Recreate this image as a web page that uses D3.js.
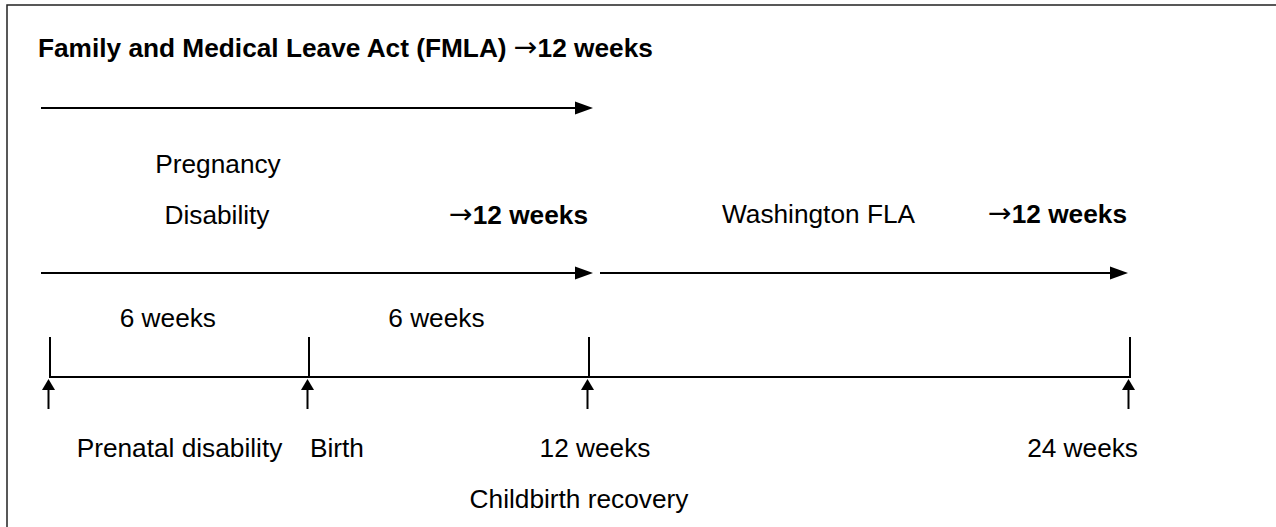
<!DOCTYPE html>
<html>
<head>
<meta charset="utf-8">
<script src="https://cdn.jsdelivr.net/npm/d3@7"></script>
<style>
  body { margin: 0; background: #fff; }
  text { font-family: Arial, "Liberation Sans", sans-serif; fill: #000; }
</style>
</head>
<body>
<div id="chart"></div>
<script>
// timeline marks, in weeks
var weeks = [0, 6, 12, 24];
var weekLabels = ["Prenatal disability", "Birth", "12 weeks", "24 weeks"];
var periodLabels = ["6 weeks", "6 weeks"];

// leave laws: name, start and end week
var lawNames = ["Family and Medical Leave Act (FMLA)", "Pregnancy Disability", "Washington FLA"];
var lawFrom = [0, 0, 12];
var lawTo = [12, 12, 24];
var recoveryLabel = "Childbirth recovery";

var width = 1276, height = 527;
var fontSize = 25, stretch = 1.05;

var svg = d3.select("#chart").append("svg")
    .attr("width", width)
    .attr("height", height);

// the drawing is not evenly spaced, so use a piecewise scale
var x = d3.scaleLinear()
    .domain(weeks)
    .range([50, 309, 589, 1130]);

// frame (right and bottom edges fall outside the picture)
svg.append("rect")
    .attr("x", 7).attr("y", 5)
    .attr("width", width + 20).attr("height", height + 20)
    .attr("fill", "none")
    .attr("stroke", "#222")
    .attr("stroke-width", 1.5);

function label(str, px, py, anchor, bold) {
    return svg.append("text")
        .attr("transform", "translate(" + px + "," + py + ") scale(" + stretch + ",1)")
        .attr("text-anchor", anchor || "start")
        .style("font-size", fontSize + "px")
        .style("font-weight", bold ? "bold" : "normal")
        .text(str);
}

// bold "->N weeks" label, arrow glyph taken from DejaVu
function durLabel(prefix, i, px, py, anchor) {
    var t = label(prefix, px, py, anchor, true);
    t.append("tspan")
        .style("font-family", "'DejaVu Sans'")
        .style("font-weight", "normal")
        .style("font-size", "27px")
        .attr("dy", -1)
        .text("\u2192");
    t.append("tspan").attr("dy", 1).text((lawTo[i] - lawFrom[i]) + " weeks");
    return t;
}

// horizontal arrow with a filled head
function hArrow(x1, x2, y) {
    var headLen = 18, headHalf = 6.5;
    svg.append("line")
        .attr("x1", x1).attr("x2", x2 - headLen + 1)
        .attr("y1", y).attr("y2", y)
        .attr("stroke", "#000").attr("stroke-width", 2);
    svg.append("path")
        .attr("d", "M" + x2 + "," + y + "L" + (x2 - headLen) + "," + (y - headHalf) +
            "L" + (x2 - headLen) + "," + (y + headHalf) + "Z")
        .attr("fill", "#000");
}

// law rows
var rowY = [108, 273, 273];
lawNames.forEach(function (name, i) {
    var x1 = lawFrom[i] === 0 ? x(lawFrom[i]) - 9 : x(lawFrom[i]) + 11;
    var x2 = lawTo[i] === 12 ? x(lawTo[i]) + 4 : x(lawTo[i]) - 2;
    hArrow(x1, x2, rowY[i]);
});

// FMLA title line
durLabel(lawNames[0] + " ", 0, 38, 57, "start");

// pregnancy disability, split on two lines
var pdWords = lawNames[1].split(" ");
label(pdWords[0], 218, 173, "middle");
label(pdWords[1], 217, 224, "middle");
durLabel("", 1, x(lawTo[1]) - 1, 224, "end");

// Washington FLA
label(lawNames[2], x(lawFrom[2]) + 133, 223, "start");
durLabel("", 2, x(lawTo[2]) - 3, 223, "end");

// period labels above ticks
periodLabels.forEach(function (p, i) {
    var a = x(weeks[i]), b = x(weeks[i + 1]);
    label(p, a + (b - a) * 0.455, 327, "middle");
});

// axis line and ticks
var axisY = 377, tickTop = 337;
svg.append("line")
    .attr("x1", x(weeks[0])).attr("x2", x(weeks[weeks.length - 1]) + 1)
    .attr("y1", axisY).attr("y2", axisY)
    .attr("stroke", "#000").attr("stroke-width", 2);

svg.selectAll(".tick")
    .data(weeks)
    .enter().append("line")
    .attr("class", "tick")
    .attr("x1", function (d) { return x(d); })
    .attr("x2", function (d) { return x(d); })
    .attr("y1", tickTop).attr("y2", axisY + 1)
    .attr("stroke", "#000").attr("stroke-width", 2);

// small up arrows under each tick
var up = svg.selectAll(".up")
    .data(weeks)
    .enter().append("g")
    .attr("class", "up")
    .attr("transform", function (d) { return "translate(" + (x(d) - 1.5) + ",0)"; });
up.append("line")
    .attr("y1", 388).attr("y2", 409)
    .attr("stroke", "#000").attr("stroke-width", 2);
up.append("path")
    .attr("d", "M0,379L-6.5,390L6.5,390Z")
    .attr("fill", "#000");

// labels under the timeline
label(weekLabels[0], (x(weeks[0]) + x(weeks[1])) / 2, 457, "middle");
label(weekLabels[1], x(weeks[1]) + 1, 457, "start");
label(weekLabels[2], x(weeks[2]) + 6, 457, "middle");
label(weekLabels[3], x(weeks[3]) + 8, 457, "end");
label(recoveryLabel, x(weeks[2]) - 10, 508, "middle");
</script>
</body>
</html>
